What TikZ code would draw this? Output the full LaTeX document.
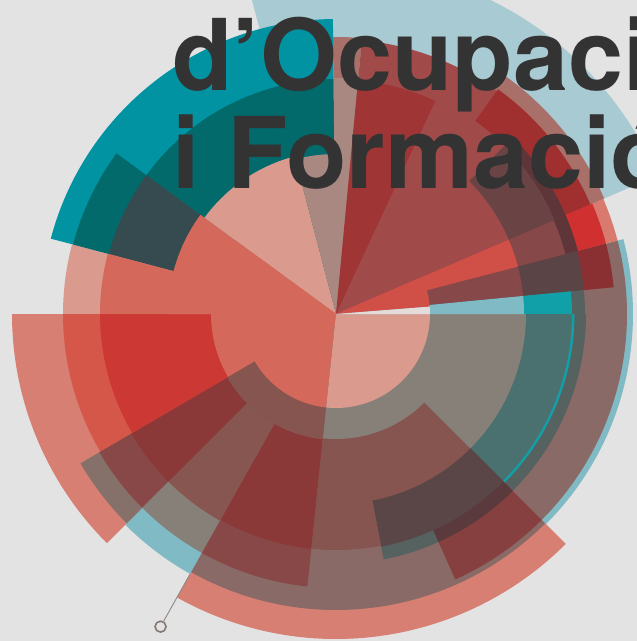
\documentclass[tikz,border=0pt]{standalone}
\usepackage{fontspec}
\setmainfont{TeX Gyre Heros}
\usepackage{tikz}
\usetikzlibrary{positioning}
\definecolor{bg}{HTML}{E3E3E3}
\definecolor{lblue}{HTML}{A8CAD2}
\definecolor{sky}{HTML}{80BAC4}
\definecolor{tealA}{HTML}{0293A3}
\definecolor{tealB}{HTML}{036A6C}
\definecolor{tealC}{HTML}{354B4F}
\definecolor{tealD}{HTML}{4A7070}
\definecolor{aqua}{HTML}{12A0A8}
\definecolor{slate}{HTML}{566260}
\definecolor{salmon}{HTML}{D77F72}
\definecolor{salmonD}{HTML}{D4685A}
\definecolor{salmonL}{HTML}{D87A6E}
\definecolor{pinkL}{HTML}{DA9A8E}
\definecolor{pale}{HTML}{E4DCDA}
\definecolor{rose}{HTML}{A88880}
\definecolor{mauve}{HTML}{A87068}
\definecolor{redA}{HTML}{A03535}
\definecolor{redB}{HTML}{A03030}
\definecolor{redC}{HTML}{D03030}
\definecolor{redD}{HTML}{D05048}
\definecolor{redE}{HTML}{D5574A}
\definecolor{scarlet}{HTML}{CC3833}
\definecolor{brick}{HTML}{A04B4A}
\definecolor{brownG}{HTML}{8A6A66}
\definecolor{brownR}{HTML}{86554F}
\definecolor{brownM}{HTML}{875650}
\definecolor{umber}{HTML}{864848}
\definecolor{rust}{HTML}{884848}
\definecolor{taupe}{HTML}{86706A}
\definecolor{ash}{HTML}{878079}
\definecolor{plum}{HTML}{5A4446}
\definecolor{dark1}{HTML}{6A4445}
\definecolor{dark2}{HTML}{5E3538}
\definecolor{dark3}{HTML}{5A4646}
\definecolor{dark4}{HTML}{5A3A3D}
\definecolor{wine}{HTML}{8A3033}
\definecolor{wine2}{HTML}{8A3838}
\definecolor{wine3}{HTML}{874040}
\definecolor{ink}{HTML}{333333}
\definecolor{pinc}{HTML}{857875}
\tikzset{
    %Define style for the title lines
    title/.style={
           anchor=base west,
           inner sep=0pt,
           text=ink,
           font=\fontsize{99}{99}\selectfont\bfseries},
    %Define style for the pin at the end of the leader
    pin/.style={
           circle,
           draw=pinc,
           line width=1.6pt,
           minimum size=11pt,
           inner sep=0pt},
    % Define leader style
    lead/.style={
           draw=pinc!90!white,
           line width=0.9pt}
}
\begin{document}
\begin{tikzpicture}[x=1pt,y=1pt]
\clip (-336,-327) rectangle (301,314);
\fill[bg] (-336,-327) rectangle (301,314);
% wedges from the centre, outer ones first
\foreach \a/\b/\r/\c in {
  23.3/105/350/lblue, 90.6/165.2/295/tealA, 180/225/324/salmon,
  -119.3/-45/325/salmon, -45/14.6/297/sky, -135/-119.3/298/sky,
  -119.3/-45/296/brownG, -45/14.6/291/brownG, 210.3/225/296/taupe,
  165.2/180/273/pinkL, 180/210.3/273/redE, 210.3/225/274/rust,
  -135/-119.3/274/ash, -119.3/-96/274/rust, 14.6/23.3/291/salmonL,
  23.3/55/292/mauve, 84.6/90.6/277/mauve, 23.3/84.6/275/brick,
  23.3/54.2/277/redB, 14.6/23.3/279/redC, 5.5/14.6/279/wine,
  143.8/165.2/272/tealB, 90.6/143.8/235/tealB, 143.8/165.2/235/tealC,
  23.3/45/250/dark2, 23.3/45/238/dark1, 45/65/238/brick,
  14.6/23.3/250/dark2, 14.6/23.3/237/umber, 5.5/14.6/249/plum,
  0/5.5/249/slate, 0/5.5/236/aqua, -45/0/250/slate,
  -45/0/238.5/aqua, -45/0/236/tealD, -65.8/-45/291/wine3,
  -79/-65.8/250/slate, -65.8/-45/250/dark4, -79/-45/237/dark3,
  -119.3/-96/236/wine2, -96/-79/236/brownR, -135/-119.3/237/brownM,
  210.3/225/237/wine2, 180/210.3/236/scarlet, 165.2/180/236/salmonD,
  143.8/180/168/salmonD, 104.7/143.8/163/pinkL, 84.6/90.6/236/rose,
  84.6/104.7/160/rose, 23.3/65/188/brick, 65/84.6/235/redA,
  -96/-45/190/brownR, -45/0/190/ash, 143.8/210.3/125/salmonD,
  210.3/264/126/brownR, 143.8/264/94/salmonD, -96/0/125/ash,
  -96/0/94/pinkL, 5.5/14.6/188/umber, 0/5.5/188/sky,
  14.6/23.3/188/redD, 4.5/23.3/94/redD, 0/4.5/94/pale}
  \fill[\c] (0,0) -- (\a:\r pt) arc[start angle=\a, end angle=\b, radius=\r pt] -- cycle;
% leader
\coordinate (tip) at (-119.3:298pt);
\node[pin] (dot) at (-119.3:358.5pt) {};
\path[lead] (tip) -- (dot);
% title
\node[title] (line1) at (-164,224) {d’Ocupació};
\node[title] (line2) at (-164,126) {i Formació};
\end{tikzpicture}
\end{document}
